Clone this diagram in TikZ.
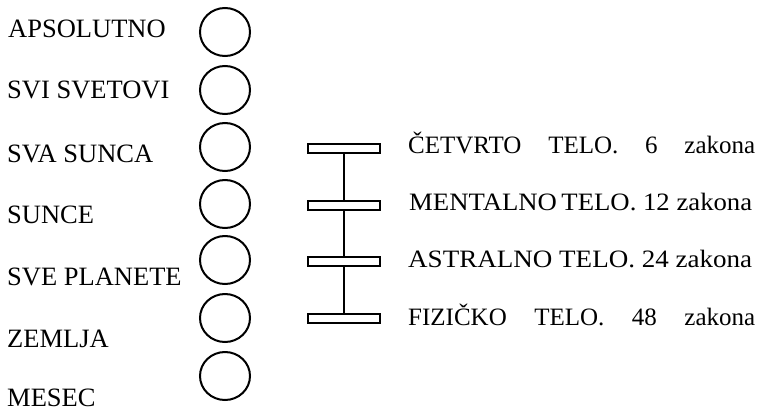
\documentclass[tikz,border=0pt]{standalone}
\usepackage{fontspec}
\setmainfont{Liberation Serif}
\usetikzlibrary{shapes.geometric}
\newcommand{\fitw}[2]{\resizebox{#1}{\height}{#2}}
\begin{document}
\begin{tikzpicture}[x=1pt,y=-1pt,
  lbl/.style={anchor=base west,inner sep=0pt,font=\fontsize{26.5}{26.5}\selectfont},
  rlbl/.style={anchor=base west,inner sep=0pt,font=\fontsize{25}{25}\selectfont},
  ring/.style={draw,line width=2pt,ellipse,inner sep=0pt,minimum width=50pt,minimum height=48pt},
  bar/.style={draw,line width=2pt,rectangle,inner sep=0pt,minimum width=72pt,minimum height=9pt},
  link/.style={line width=2pt}]
\useasboundingbox (0,0) rectangle (760,410);
% left labels
\node[lbl] (l1) at (8,37) {APSOLUTNO};
\node[lbl] (l2) at (7,98) {SVI SVETOVI};
\node[lbl] (l3) at (7,162) {SVA SUNCA};
\node[lbl] (l4) at (7,223) {SUNCE};
\node[lbl] (l5) at (7,285) {SVE PLANETE};
\node[lbl] (l6) at (7,347) {ZEMLJA};
\node[lbl] (l7) at (7,406) {MESEC};
% circles
\node[ring] (c1) at (225,32) {};
\node[ring] (c2) at (225,90) {};
\node[ring] (c3) at (225,147) {};
\node[ring] (c4) at (225,204) {};
\node[ring] (c5) at (225,260) {};
\node[ring] (c6) at (225,318) {};
\node[ring] (c7) at (225,376) {};
% bars
\node[bar] (b1) at (344,148.5) {};
\node[bar] (b2) at (344,205.5) {};
\node[bar] (b3) at (344,261.5) {};
\node[bar] (b4) at (344,318.5) {};
\draw[link] (b1.south) -- (b2.north);
\draw[link] (b2.south) -- (b3.north);
\draw[link] (b3.south) -- (b4.north);
% right labels
\node[rlbl] (r1) at (408,153) {\makebox[347pt][s]{ČETVRTO TELO. 6 zakona}};
\node[rlbl] (r2) at (409,210) {\fitw{343pt}{MENTALNO\kern-2pt\ TELO. 12 zakona}};
\node[rlbl] (r3) at (408,267) {\fitw{344pt}{ASTRALNO TELO. 24 zakona}};
\node[rlbl] (r4) at (408,325) {\makebox[347pt][s]{FIZIČKO TELO. 48 zakona}};
\end{tikzpicture}
\end{document}
